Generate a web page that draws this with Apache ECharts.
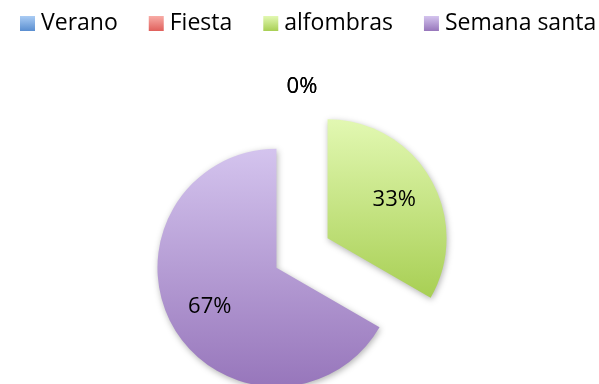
<!DOCTYPE html>
<html>
<head>
<meta charset="utf-8">
<script src="https://cdn.jsdelivr.net/npm/echarts@6/dist/echarts.min.js"></script>
<style>
  html, body { margin: 0; padding: 0; background: #fff; }
  #chart { width: 599px; height: 384px; }
</style>
</head>
<body>
<div id="chart"></div>
<script>
// Category names and their counts
const categories = ['Verano', 'Fiesta', 'alfombras', 'Semana santa'];
const counts = [0, 0, 1, 2];
// Slices pulled out of the pie
const exploded = [false, false, true, true];

// Top / bottom colours of each slice's vertical gradient
const topColors = ['#aaccf4', '#f8aca6', '#e2f8b2', '#d4c4ee'];
const bottomColors = ['#5a8ed0', '#e0605c', '#a8cf54', '#9776bb'];

const FONT = 'Open Sans';

function grad(i) {
  return new echarts.graphic.LinearGradient(0, 0, 0, 1, [
    { offset: 0, color: topColors[i] },
    { offset: 1, color: bottomColors[i] }
  ]);
}

const total = counts.reduce((a, b) => a + b, 0);
const pctText = v => Math.round(v / total * 100) + '%';

const center = [302, 253];
const radius = 119;
const offset = 29.5;

// Visible slices
const shapeData = categories.map((name, i) => ({
  name,
  value: counts[i],
  selected: exploded[i],
  itemStyle: {
    color: grad(i),
    shadowBlur: 6,
    shadowColor: 'rgba(0,0,0,0.3)',
    shadowOffsetX: 1,
    shadowOffsetY: 2
  }
}));

// Transparent ring carrying the percentage labels
const labelData = categories.map((name, i) => ({
  name,
  value: counts[i],
  selected: exploded[i],
  label: counts[i] === 0
    ? { position: 'outside' }
    : { position: 'inside' },
  labelLine: { show: false, length: 47, length2: 0 }
}));

const chart = echarts.init(document.getElementById('chart'), null, { renderer: 'canvas' });
chart.setOption({
  animation: false,
  color: bottomColors,
  legend: {
    data: categories.map((name, i) => ({ name, itemStyle: { color: grad(i) } })),
    top: 12,
    left: 20,
    width: 579,
    padding: 0,
    icon: 'rect',
    itemWidth: 15,
    itemHeight: 15,
    itemGap: 31,
    selectedMode: false,
    textStyle: { fontFamily: FONT, fontSize: 23, color: '#000', padding: [2, 0, 0, 1] }
  },
  series: [
    {
      type: 'pie',
      center,
      radius: [0, radius],
      startAngle: 90,
      clockwise: true,
      selectedMode: 'multiple',
      selectedOffset: offset,
      silent: true,
      label: { show: false },
      labelLine: { show: false },
      emphasis: { disabled: true },
      data: shapeData
    },
    {
      type: 'pie',
      center,
      radius: [29, radius],
      startAngle: 90,
      clockwise: true,
      selectedMode: 'multiple',
      selectedOffset: offset,
      silent: true,
      avoidLabelOverlap: false,
      itemStyle: { color: 'rgba(0,0,0,0)' },
      emphasis: { disabled: true },
      label: {
        show: true,
        formatter: p => pctText(p.value),
        fontFamily: FONT,
        fontSize: 22,
        color: '#000',
        distanceToLabelLine: 0
      },
      // zero-value labels sit centred above the pie
      labelLayout: p => (counts[p.dataIndex] === 0 ? { align: 'center' } : {}),
      data: labelData
    }
  ]
});
</script>
</body>
</html>
